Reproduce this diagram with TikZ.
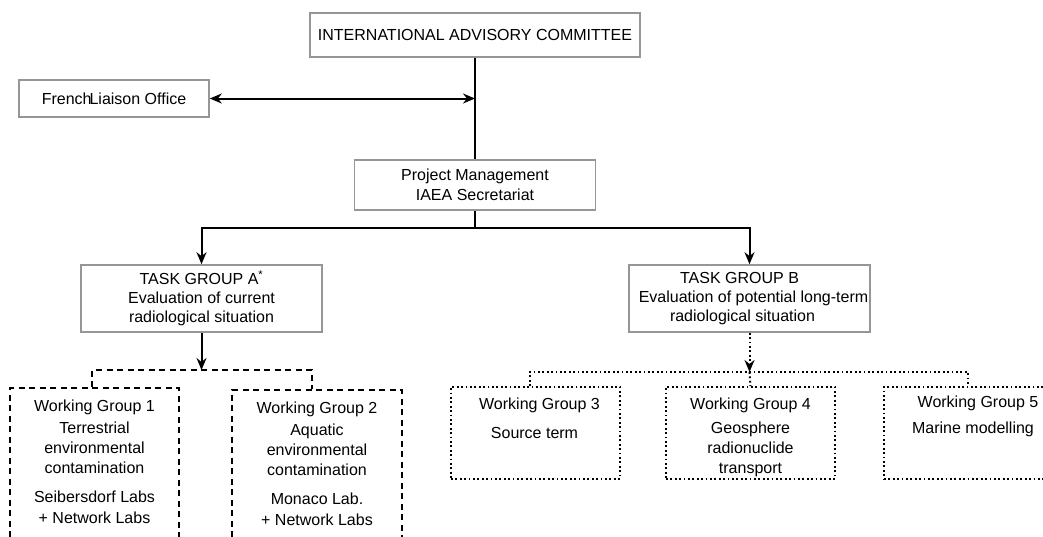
\documentclass[tikz,border=0pt]{standalone}
\usepackage{fontspec}
\setmainfont{Liberation Sans}
\usetikzlibrary{arrows.meta}

\definecolor{boxgrey}{RGB}{150,150,150}

\tikzset{
  >={Stealth[length=12pt,width=10pt]},
  greybox/.style={draw=boxgrey, line width=1.6pt, fill=white, align=center, inner sep=2pt,
    font=\fontsize{16}{19}\selectfont},
  wgframe/.style={draw, minimum width=170pt, minimum height=92pt, anchor=north},
  wgtext/.style={anchor=north, align=center, inner sep=0pt, font=\fontsize{16}{20}\selectfont},
  solidline/.style={line width=2pt},
  dashedline/.style={line width=2pt, dash pattern=on 6pt off 4.5pt},
  dottedline/.style={line width=2pt, dash pattern=on 1.8pt off 2.6pt},
}

\begin{document}
\begin{tikzpicture}[x=1pt, y=-1pt]
  % page size of the chart
  \useasboundingbox (0,0) rectangle (1043,536);
  \clip (0,0) rectangle (1043,536);

  % committee, liaison and management
  \node[greybox, minimum width=330pt, minimum height=44pt] (iac) at (475,35) {INTERNATIONAL ADVISORY COMMITTEE};
  \node[greybox, minimum width=190pt, minimum height=37pt] (french) at (114,98.5) {French\kern-2pt Liaison Office};
  \node[greybox, minimum width=241pt, minimum height=50pt, font=\fontsize{16}{20}\selectfont] (pm) at (475,185) {Project Management\\IAEA Secretariat};

  % task groups
  \node[greybox, minimum width=241pt, minimum height=67pt] (taskA) at (201.5,298.5) {TASK GROUP A\textsuperscript{*}\\Evaluation of current\\radiological situation};
  \node[greybox, minimum width=241pt, minimum height=67pt] (taskB) at (749.5,298.5) {\hspace*{-20pt}TASK GROUP B\\\hspace*{8pt}Evaluation of potential long-term\\\hspace*{-14pt}radiological situation};

  % working group frames (open at the page edges)
  \node[wgframe, dashedline, minimum width=169pt, minimum height=170pt] (wg1) at (94.5,387) {};
  \node[wgframe, dashedline, minimum height=170pt] (wg2) at (317,389) {};
  \node[wgframe, dottedline, minimum width=169pt] (wg3) at (535.5,386) {};
  \node[wgframe, dottedline, minimum width=169pt] (wg4) at (750.5,386) {};
  \node[wgframe, dottedline] (wg5) at (969,386) {};

  % working group texts
  \node[wgtext] (wg1txt) at ([yshift=-12.5pt]wg1.north) {Working Group 1\\[2pt]Terrestrial\\environmental\\contamination\\[9pt]Seibersdorf Labs\\[1pt]+ Network Labs};
  \node[wgtext] (wg2txt) at ([yshift=-12.5pt]wg2.north) {Working Group 2\\[2pt]Aquatic\\environmental\\contamination\\[9pt]Monaco Lab.\\[1pt]+ Network Labs};
  \node[wgtext] (wg3txt) at ([xshift=4pt, yshift=-11.5pt]wg3.north) {Working Group 3\\[9pt]\hspace*{-10pt}Source term};
  \node[wgtext] (wg4txt) at ([yshift=-11.5pt]wg4.north) {Working Group 4\\[4pt]Geosphere\\radionuclide\\transport};
  \node[wgtext] (wg5txt) at ([xshift=4pt, yshift=-9.5pt]wg5.north) {\hspace*{10pt}Working Group 5\\[6pt]Marine modelling};

  % junction points
  \coordinate (hub) at (475,228);
  \coordinate (forkA) at (201.5,370);
  \coordinate (forkB) at (749.5,372);

  % connectors
  \draw[solidline] (iac.south) -- (pm.north);
  \draw[solidline, <->] (french.east) -- (french.east -| iac.south);
  \draw[solidline] (pm.south) -- (hub);
  \draw[solidline, ->] (hub) -| (taskA.north);
  \draw[solidline, ->] (hub) -| (taskB.north);

  % task group A to its working groups
  \draw[solidline, ->] (taskA.south) -- (forkA);
  \draw[dashedline] ([xshift=-2.5pt]wg1.north) |- (forkA) -| ([xshift=-5pt]wg2.north);

  % task group B to its working groups
  \draw[dottedline, ->] (taskB.south) -- (forkB);
  \draw[dottedline] ([xshift=-5.5pt]wg3.north) |- (forkB) -| ([xshift=-1pt]wg5.north);
  \draw[dottedline] (forkB) -- (wg4.north);
\end{tikzpicture}
\end{document}
